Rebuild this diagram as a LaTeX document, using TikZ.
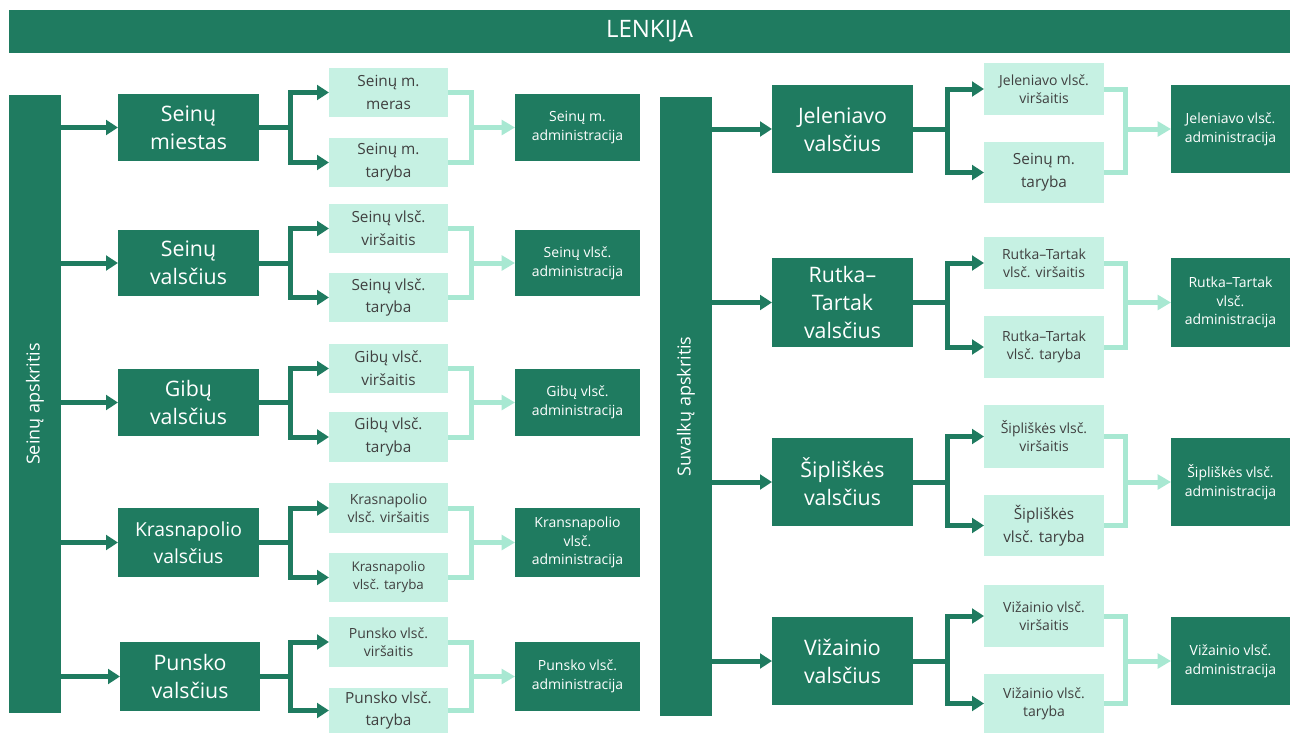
\documentclass[tikz,border=0pt]{standalone}
\usepackage{fontspec}
\setmainfont{Open Sans}
\usetikzlibrary{arrows.meta}
\definecolor{dg}{RGB}{31,123,96}
\definecolor{lf}{RGB}{198,241,227}
\definecolor{lc}{RGB}{168,232,210}
\definecolor{tg}{RGB}{64,64,64}
\newcommand\bx[7]{\node[#6,minimum width={(#4-#2)*0.75pt},minimum height={(#5-#3)*0.75pt}] (#1) at ({(#2+#4)/2},{(#3+#5)/2}) {#7};}
\newcommand\rowlinks[6]{%
  \coordinate (#1j) at (#1.east -| #5,0);
  \draw[dline] (#1.east) -- (#1j);
  \draw[dtwo] (#2.west) -| (#1j) |- (#3.west);
  \coordinate (#4k) at (#4.west -| #6,0);
  \draw[lline] (#2.east) -| (#4k) |- (#3.east);
  \draw[larr] (#4k) -- (#4.west);
}
\begin{document}
\begin{tikzpicture}[x=0.75pt,y=-0.75pt,
  dk/.style={fill=dg,text=white,inner sep=0pt,outer sep=0pt,align=center},
  lt/.style={fill=lf,text=tg,inner sep=0pt,outer sep=0pt,align=center,font=\fontsize{11.5}{17}\selectfont},
  lts/.style={lt,font=\fontsize{10.5}{13.5}\selectfont},
  l1/.style={dk,font=\fontsize{16}{21}\selectfont},
  l1s/.style={dk,font=\fontsize{14.5}{20}\selectfont},
  ad/.style={dk,font=\fontsize{10.5}{14}\selectfont},
  dline/.style={draw=dg,line width=3.75pt},
  darr/.style={dline,-{Triangle[length=9pt,width=11pt]}},
  dtwo/.style={dline,{Triangle[length=9pt,width=11pt]}-{Triangle[length=9pt,width=11pt]}},
  lline/.style={draw=lc,line width=3.75pt},
  larr/.style={lline,-{Triangle[length=10pt,width=11pt]}},
  vlab/.style={rotate=90,text=white,font=\fontsize{13.5}{16}\selectfont},
]
\fill[white] (0,0) rectangle (1293,733);
\useasboundingbox (0,0) rectangle (1293,733);

\bx{t}{9}{10}{1290}{53}{dk,font=\fontsize{18}{21}\selectfont}{LENKIJA}

% left county
\bx{sa}{9}{95}{61}{713}{dk}{}
\node[vlab] (sat) at (sa.center) {Seinų apskritis};

\bx{m1}{118}{94}{259}{161}{l1}{Seinų\\miestas}
\bx{m2}{118}{230}{259}{296}{l1}{Seinų\\valsčius}
\bx{m3}{118}{369}{259}{436}{l1}{Gibų\\valsčius}
\bx{m4}{118}{508}{259}{577}{l1s}{Krasnapolio\\valsčius}
\bx{m5}{120}{642}{260}{711}{l1}{Punsko\\valsčius}

\bx{a1}{329}{68}{448}{117}{lt}{Seinų m.\\meras}
\bx{b1}{329}{138}{448}{187}{lt}{Seinų m.\\taryba}
\bx{a2}{329}{204}{448}{253}{lt}{Seinų vlsč.\\viršaitis}
\bx{b2}{329}{273}{448}{322}{lt}{Seinų vlsč.\\taryba}
\bx{a3}{329}{344}{448}{393}{lt}{Gibų vlsč.\\viršaitis}
\bx{b3}{329}{412}{448}{462}{lt}{Gibų vlsč.\\taryba}
\bx{a4}{329}{483}{448}{533}{lts}{Krasnapolio\\vlsč. viršaitis}
\bx{b4}{329}{553}{448}{602}{lt,font=\fontsize{10}{13.5}\selectfont}{Krasnapolio\\vlsč. taryba}
\bx{a5}{329}{617}{448}{667}{lts}{Punsko vlsč.\\viršaitis}
\bx{b5}{329}{688}{448}{733}{lt}{Punsko vlsč.\\taryba}

\bx{d1}{515}{94}{640}{161}{ad}{Seinų m.\\administracija}
\bx{d2}{515}{230}{640}{296}{ad}{Seinų vlsč.\\administracija}
\bx{d3}{515}{369}{640}{436}{ad}{Gibų vlsč.\\administracija}
\bx{d4}{515}{508}{640}{577}{ad}{Kransnapolio\\vlsč.\\administracija}
\bx{d5}{515}{642}{640}{711}{ad}{Punsko vlsč.\\administracija}

\foreach \m in {m1,m2,m3,m4,m5} {\draw[darr] (sa.east |- \m.west) -- (\m.west);}
\rowlinks{m1}{a1}{b1}{d1}{290}{471}
\rowlinks{m2}{a2}{b2}{d2}{290}{471}
\rowlinks{m3}{a3}{b3}{d3}{290}{471}
\rowlinks{m4}{a4}{b4}{d4}{290}{471}
\rowlinks{m5}{a5}{b5}{d5}{290}{471}

% right county
\bx{sb}{660}{97}{712}{716}{dk}{}
\node[vlab] (sbt) at (sb.center) {Suvalkų apskritis};

\bx{n1}{772}{85}{913}{173}{l1}{Jeleniavo\\valsčius}
\bx{n2}{772}{258}{913}{347}{l1}{Rutka–\\Tartak\\valsčius}
\bx{n3}{772}{438}{913}{526}{l1}{Šipliškės\\valsčius}
\bx{n4}{772}{617}{913}{705}{l1}{Vižainio\\valsčius}

\bx{e1}{984}{63}{1104}{115}{lts}{Jeleniavo vlsč.\\viršaitis}
\bx{f1}{984}{142}{1104}{203}{lt}{Seinų m.\\taryba}
\bx{e2}{984}{237}{1104}{289}{lts}{Rutka–Tartak\\vlsč. viršaitis}
\bx{f2}{984}{316}{1104}{378}{lts}{Rutka–Tartak\\vlsč. taryba}
\bx{e3}{984}{405}{1104}{468}{lts}{Šipliškės vlsč.\\viršaitis}
\bx{f3}{984}{495}{1104}{556}{lt}{Šipliškės\\vlsč. taryba}
\bx{e4}{984}{585}{1104}{647}{lts}{Vižainio vlsč.\\viršaitis}
\bx{f4}{984}{674}{1104}{733}{lts}{Vižainio vlsč.\\taryba}

\bx{g1}{1171}{85}{1290}{173}{ad}{Jeleniavo vlsč.\\administracija}
\bx{g2}{1171}{258}{1290}{347}{ad}{Rutka–Tartak\\vlsč.\\administracija}
\bx{g3}{1171}{438}{1290}{526}{ad}{Šipliškės vlsč.\\administracija}
\bx{g4}{1171}{617}{1290}{705}{ad}{Vižainio vlsč.\\administracija}

\foreach \n in {n1,n2,n3,n4} {\draw[darr] (sb.east |- \n.west) -- (\n.west);}
\rowlinks{n1}{e1}{f1}{g1}{947}{1125}
\rowlinks{n2}{e2}{f2}{g2}{947}{1125}
\rowlinks{n3}{e3}{f3}{g3}{947}{1125}
\rowlinks{n4}{e4}{f4}{g4}{947}{1125}
\end{tikzpicture}
\end{document}
